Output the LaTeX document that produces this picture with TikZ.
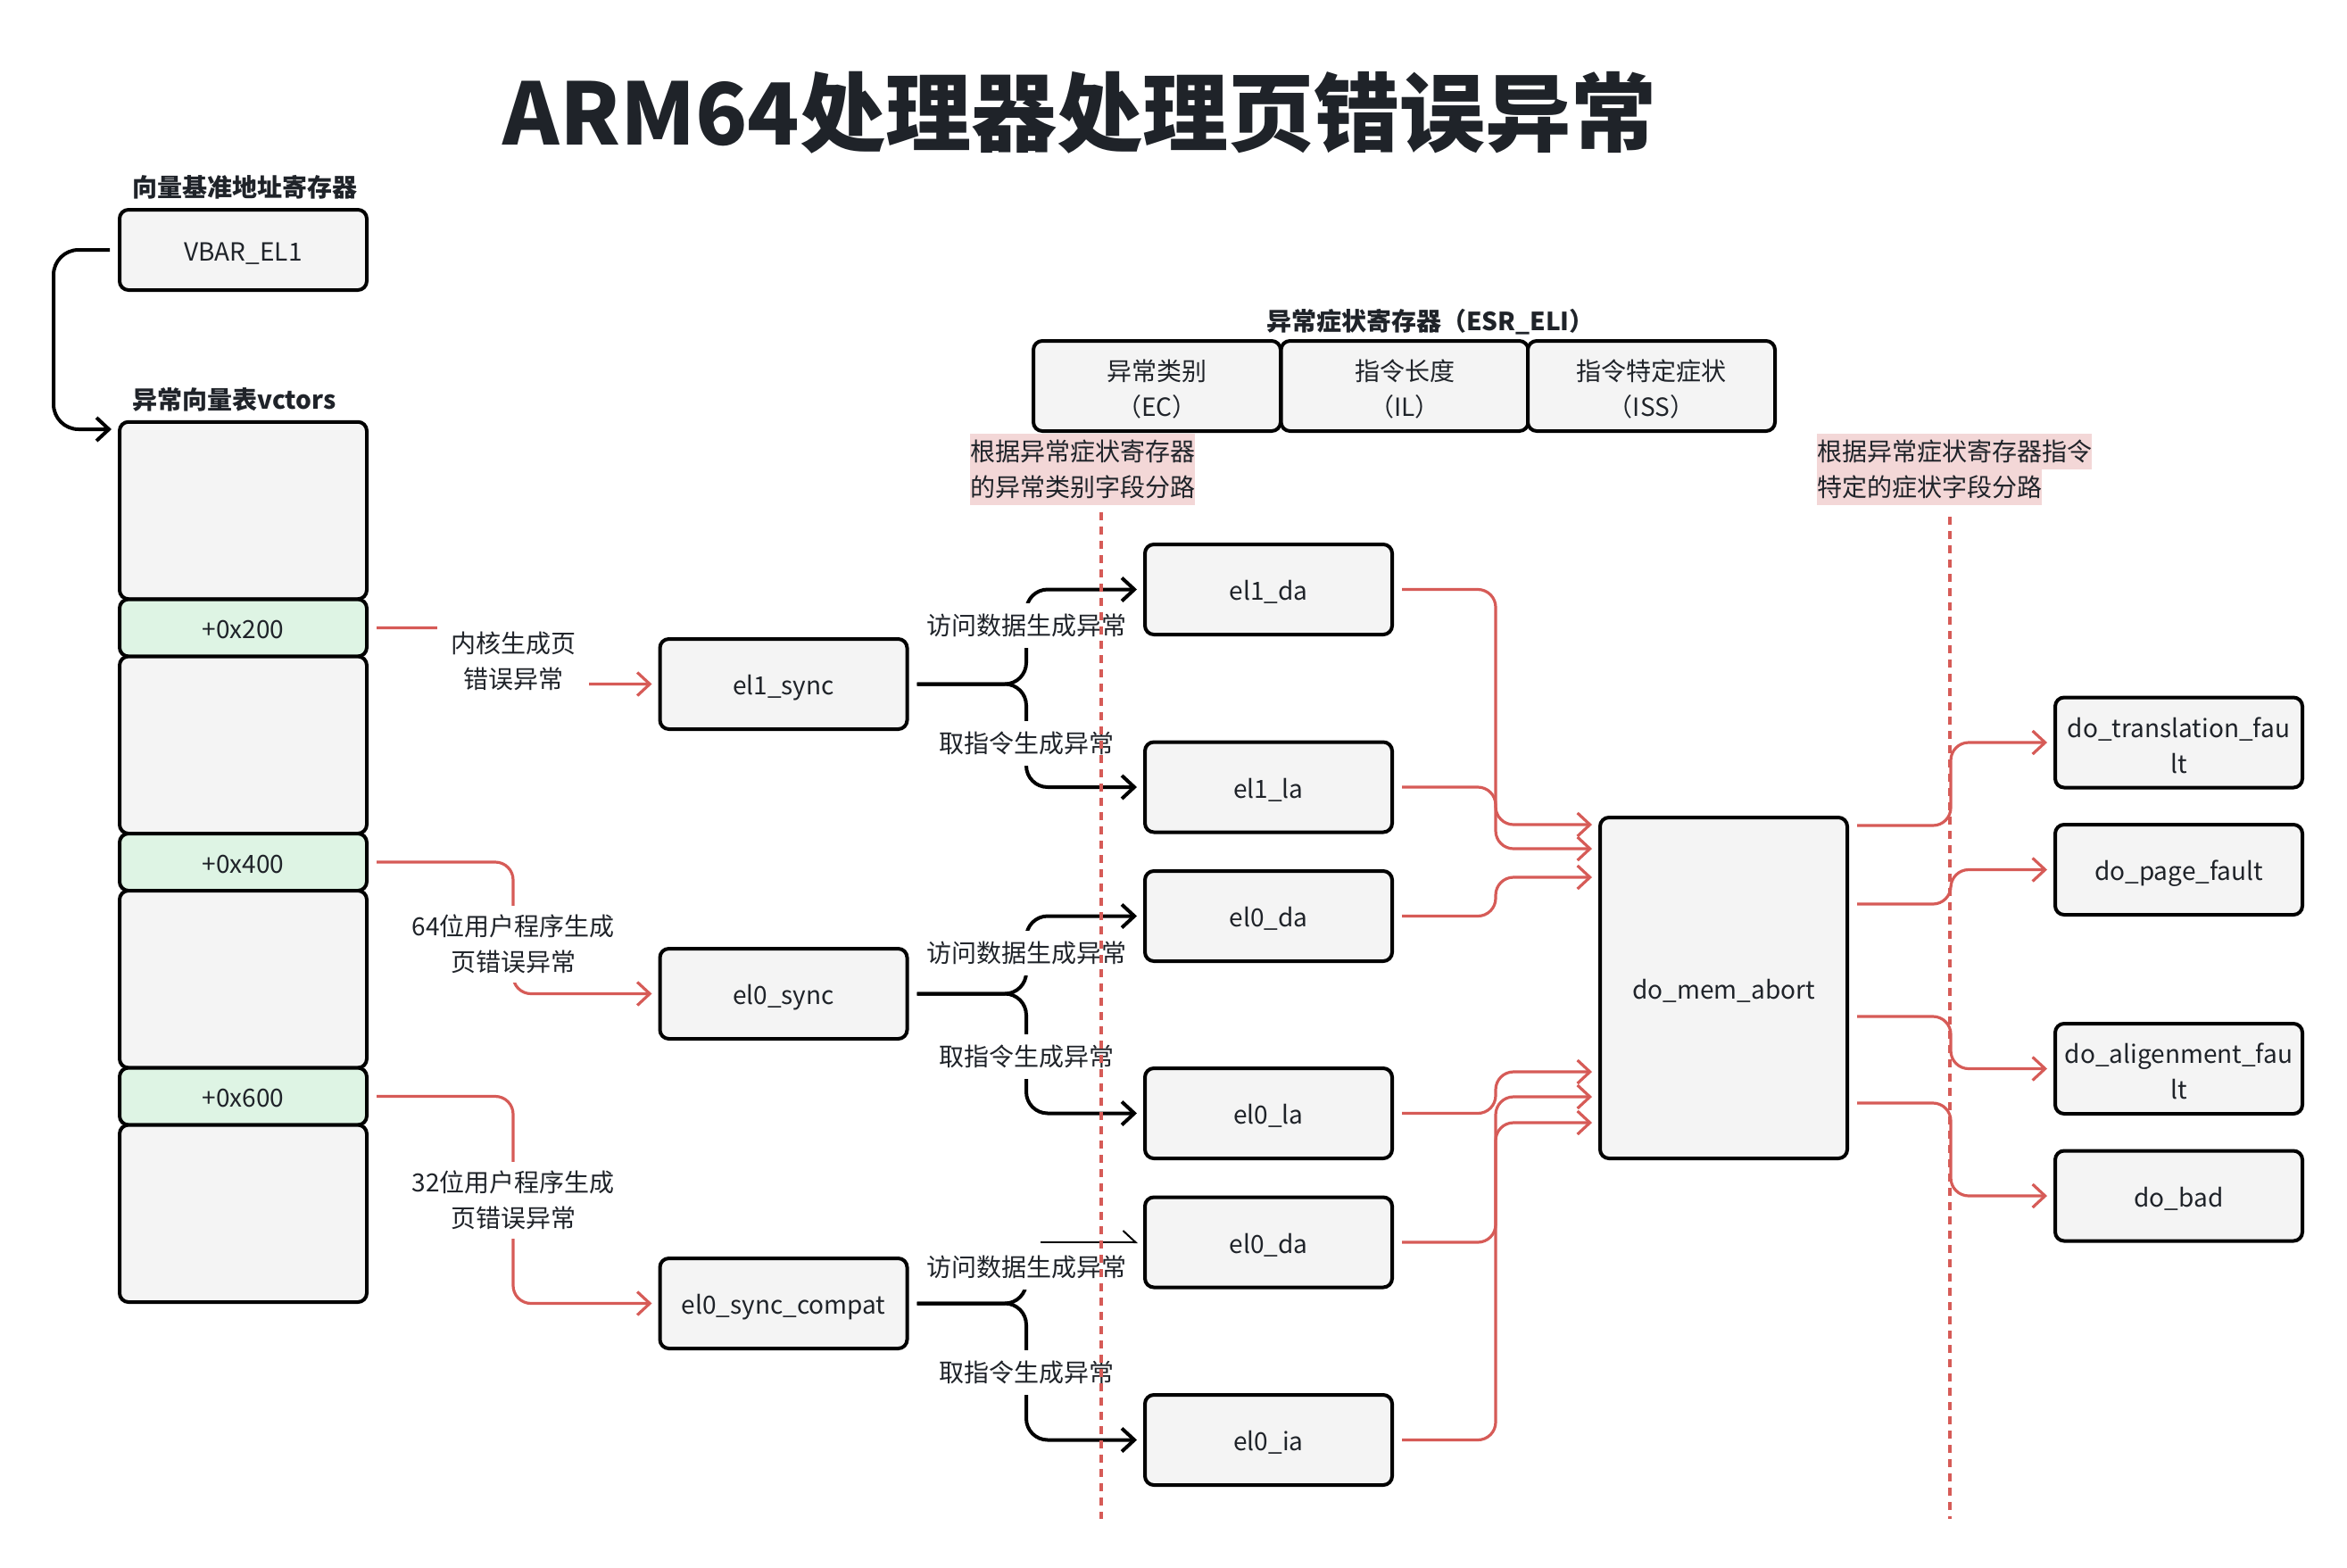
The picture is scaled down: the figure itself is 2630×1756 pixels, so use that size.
\documentclass[tikz,border=0pt]{standalone}
\usepackage{fontspec}
\setmainfont{Noto Sans CJK SC}
\usetikzlibrary{arrows.meta}
\definecolor{ink}{HTML}{1F2329}
\definecolor{boxgray}{HTML}{F4F4F4}
\definecolor{vecgreen}{HTML}{DEF4E4}
\definecolor{linkred}{HTML}{D65B57}
\definecolor{notepink}{HTML}{F3D7D7}
\newcommand\fnorm{\fontsize{28}{40}\selectfont}
\newcommand\fhead{\fontsize{28}{40}\selectfont\bfseries}
\newcommand\ftitle{\fontsize{96}{110}\selectfont\bfseries}
\newcommand\topstrut[1]{\rule{0pt}{#1}}
\pgfdeclarelayer{bg}
\pgfsetlayers{bg,main}
\begin{document}
\begin{tikzpicture}[x=1pt,y=-1pt,
  every node/.style={text=ink},
  elbox/.style={draw=black, line width=4pt, rounded corners=10pt, fill=boxgray,
    minimum width=277pt, minimum height=101pt, inner sep=0pt, align=center, font=\fnorm,
    execute at end node={\rule[-6pt]{0pt}{6pt}}},
  vecbig/.style={elbox, minimum height=198.5pt},
  vecoff/.style={elbox, fill=vecgreen, minimum height=64pt},
  lab/.style={fill=white, align=center, font=\fnorm, inner xsep=15pt, inner ysep=10pt},
  forklab/.style={fill=white, font=\fnorm, inner xsep=1pt, inner ysep=12pt},
  note/.style={fill=notepink, font=\fnorm, inner sep=0pt, minimum height=40pt, anchor=west},
  blk/.style={draw=black, line width=4pt, rounded corners=24pt,
    -{Straight Barb[length=14pt,width=26pt]}, shorten <=9pt, shorten >=7pt},
  rd/.style={draw=linkred, line width=3.2pt, rounded corners=20pt,
    -{Straight Barb[length=14pt,width=26pt]}, shorten <=9pt, shorten >=7pt},
  guide/.style={draw=linkred, line width=4pt, dash pattern=on 9pt off 7pt}
]
\useasboundingbox (0,0) rectangle (2630,1756);

% title and headings
\node[font=\ftitle] (title) at (1210,126) {ARM64处理器处理页错误异常};
\node[font=\fhead, anchor=west] (vbarhead) at (145,210) {向量基准地址寄存器};
\node[font=\fhead, anchor=west] (vechead) at (145,448) {异常向量表vctors};
\node[font=\fhead] (esrhead) at (1603,361) {异常症状寄存器（ESR\_ELI）};

% VBAR
\node[elbox, minimum height=90pt] (vbar) at (272.5,280) {\topstrut{30pt}VBAR\_EL1};

% vector table
\node[vecbig] (B1) at (272.5,572) {};
\node[vecoff] (G1) at (272.5,703.5) {\topstrut{30pt}+0x200};
\node[vecbig] (B2) at (272.5,834.75) {};
\node[vecoff] (G2) at (272.5,966) {\topstrut{30pt}+0x400};
\node[vecbig] (B3) at (272.5,1097.25) {};
\node[vecoff] (G3) at (272.5,1228.5) {\topstrut{30pt}+0x600};
\node[vecbig] (B4) at (272.5,1359.75) {};

% ESR fields
\node[elbox] (ec) at (1296.5,432.5) {\topstrut{34pt}异常类别\\（EC）};
\node[elbox] (il) at (1574,432.5) {\topstrut{34pt}指令长度\\（IL）};
\node[elbox] (iss) at (1850.5,432.5) {\topstrut{34pt}指令特定症状\\（ISS）};

% notes
\node[note] (note1a) at (1087,506) {根据异常症状寄存器};
\node[note] (note1b) at (1087,546) {的异常类别字段分路};
\node[note] (note2a) at (2036,506) {根据异常症状寄存器指令};
\node[note] (note2b) at (2036,546) {特定的症状字段分路};

% entry handlers
\node[elbox] (el1sync) at (878,766.5) {\topstrut{30pt}el1\_sync};
\node[elbox] (el0sync) at (878,1113.5) {\topstrut{30pt}el0\_sync};
\node[elbox] (compat) at (878,1460.5) {\topstrut{30pt}el0\_sync\_compat};

% second level
\node[elbox] (el1da) at (1421.5,660.5) {\topstrut{30pt}el1\_da};
\node[elbox] (el1la) at (1421.5,882) {\topstrut{30pt}el1\_la};
\node[elbox] (el0da) at (1421.5,1026.5) {\topstrut{30pt}el0\_da};
\node[elbox] (el0la) at (1421.5,1247.5) {\topstrut{30pt}el0\_la};
\node[elbox] (el0dab) at (1421.5,1392) {\topstrut{30pt}el0\_da};
\node[elbox] (el0ia) at (1421.5,1613.5) {\topstrut{30pt}el0\_ia};

% do_mem_abort and targets
\node[elbox, minimum height=382pt] (dma) at (1931.5,1107) {\topstrut{30pt}do\_mem\_abort};
\node[elbox] (dotrans) at (2441.5,832) {\topstrut{34pt}do\_translation\_fau\\lt};
\node[elbox] (dopage) at (2441.5,974.5) {\topstrut{30pt}do\_page\_fault};
\node[elbox] (doalign) at (2441.5,1197.5) {\topstrut{34pt}do\_aligenment\_fau\\lt};
\node[elbox] (dobad) at (2441.5,1340) {\topstrut{30pt}do\_bad};

% labels
\node[lab] (lab1) at (575,741) {内核生成页\\错误异常};
\node[lab] (lab2) at (575,1058) {64位用户程序生成\\页错误异常};
\node[lab] (lab3) at (575,1345) {32位用户程序生成\\页错误异常};
\node[forklab] (f1a) at (1150,701) {访问数据生成异常};
\node[forklab] (f1b) at (1150,833) {取指令生成异常};
\node[forklab] (f2a) at (1150,1068) {访问数据生成异常};
\node[forklab] (f2b) at (1150,1184) {取指令生成异常};
\node[forklab] (f3a) at (1150,1420) {访问数据生成异常};
\node[forklab] (f3b) at (1150,1538) {取指令生成异常};

\coordinate (fork1) at (1150,766.5);
\coordinate (fork2) at (1150,1113.5);
\coordinate (fork3) at (1150,1460.5);
\coordinate (fork3top) at (1150,1425);
\coordinate (stub) at (1166,1392);

\begin{pgfonlayer}{bg}
% VBAR -> vector table
\draw[blk, rounded corners=28pt] (vbar.west) -- (60,280) |- (B1.west |- 0,481);
% vector entries -> handlers
\draw[rd] (G1.east) -| (lab1.center) |- (el1sync.west);
\draw[rd] (G2.east) -| (lab2.center) |- (el0sync.west);
\draw[rd] (G3.east) -| (lab3.center) |- (compat.west);
% forks
\draw[blk] (el1sync.east) -- (fork1) |- (el1da.west);
\draw[blk] (el1sync.east) -- (fork1) |- (el1la.west);
\draw[blk] (el0sync.east) -- (fork2) |- (el0da.west);
\draw[blk] (el0sync.east) -- (fork2) |- (el0la.west);
\draw[blk, -, shorten >=0pt] (compat.east) -- (fork3) -- (fork3top);
\draw[blk] (compat.east) -- (fork3) |- (el0ia.west);
% into do_mem_abort
\draw[rd] (el1da.east) -| (1676,924) -- (dma.west |- 0,924);
\draw[rd] (el1la.east) -| (1676,951) -- (dma.west |- 0,951);
\draw[rd] (el0da.east) -| (1676,983) -- (dma.west |- 0,983);
\draw[rd] (el0la.east) -| (1676,1201) -- (dma.west |- 0,1201);
\draw[rd] (el0dab.east) -| (1676,1229) -- (dma.west |- 0,1229);
\draw[rd] (el0ia.east) -| (1676,1258) -- (dma.west |- 0,1258);
% out of do_mem_abort
\draw[rd] (dma.east |- 0,925) -- (2186,925) |- (dotrans.west);
\draw[rd] (dma.east |- 0,1013) -- (2186,1013) |- (dopage.west);
\draw[rd] (dma.east |- 0,1139) -- (2186,1139) |- (doalign.west);
\draw[rd] (dma.east |- 0,1236) -- (2186,1236) |- (dobad.west);
\end{pgfonlayer}

% odd thin connector to second el0_da
\draw[draw=black, line width=2pt, -{Straight Barb[left,length=14pt,width=26pt]}, shorten >=6pt] (stub) -- (el0dab.west);

% guide lines on top
\draw[guide] (1234,574) -- (1234,1702);
\draw[guide] (2185,579) -- (2185,1702);
\end{tikzpicture}
\end{document}
